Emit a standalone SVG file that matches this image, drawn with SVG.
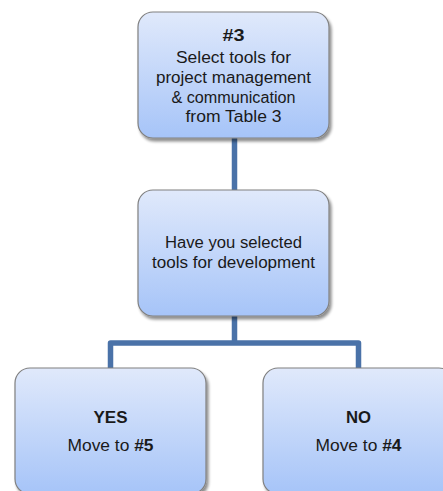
<svg xmlns="http://www.w3.org/2000/svg" width="443" height="491" viewBox="0 0 443 491">
  <defs>
    <linearGradient id="boxFill" x1="0" y1="0" x2="0" y2="1">
      <stop offset="0" stop-color="#e0e9fb"/>
      <stop offset="1" stop-color="#a6c4f8"/>
    </linearGradient>
    <filter id="shadow" x="-10%" y="-10%" width="125%" height="130%">
      <feGaussianBlur in="SourceAlpha" stdDeviation="1.6"/>
      <feOffset dx="1.5" dy="2.5" result="b"/>
      <feComponentTransfer><feFuncA type="linear" slope="0.45"/></feComponentTransfer>
      <feMerge><feMergeNode/><feMergeNode in="SourceGraphic"/></feMerge>
    </filter>
  </defs>
  <style>
    .box { fill: url(#boxFill); stroke: #808080; stroke-width: 1.2; filter: url(#shadow); }
    .link { fill: none; stroke: #4a72a8; stroke-width: 5.5; stroke-linejoin: round; }
    text { font-family: "Liberation Sans", Arial, sans-serif; font-size: 16px; fill: #1a1a1a; text-anchor: middle; }
    .b { font-weight: bold; }
  </style>

  <g id="connectors">
    <path class="link" d="M234.5 138 V190"/>
    <path class="link" d="M234.5 316 V343 M110.5 368 V343 H358.5 V368"/>
  </g>

  <g id="step3">
    <rect class="box" x="138" y="12" width="191" height="126" rx="15"/>
    <text x="233.5" y="41" class="b" textLength="22" lengthAdjust="spacingAndGlyphs">#3</text>
    <text x="233.5" y="63" textLength="115" lengthAdjust="spacingAndGlyphs">Select tools for</text>
    <text x="233.5" y="83" textLength="155" lengthAdjust="spacingAndGlyphs">project management</text>
    <text x="233.5" y="102.5" textLength="124" lengthAdjust="spacingAndGlyphs">&amp; communication</text>
    <text x="233.5" y="122" textLength="96" lengthAdjust="spacingAndGlyphs">from Table 3</text>
  </g>

  <g id="question">
    <rect class="box" x="138" y="190" width="191" height="126" rx="15"/>
    <text x="233.5" y="248" textLength="137" lengthAdjust="spacingAndGlyphs">Have you selected</text>
    <text x="233.5" y="268" textLength="163" lengthAdjust="spacingAndGlyphs">tools for development</text>
  </g>

  <g id="yes">
    <rect class="box" x="15" y="368" width="191" height="126" rx="15"/>
    <text x="110.5" y="423" class="b" textLength="34" lengthAdjust="spacingAndGlyphs">YES</text>
    <text x="110.5" y="451" textLength="86" lengthAdjust="spacingAndGlyphs">Move to <tspan class="b">#5</tspan></text>
  </g>

  <g id="no">
    <rect class="box" x="263" y="368" width="191" height="126" rx="15"/>
    <text x="358.5" y="423" class="b" textLength="25" lengthAdjust="spacingAndGlyphs">NO</text>
    <text x="358.5" y="451" textLength="86" lengthAdjust="spacingAndGlyphs">Move to <tspan class="b">#4</tspan></text>
  </g>
</svg>
